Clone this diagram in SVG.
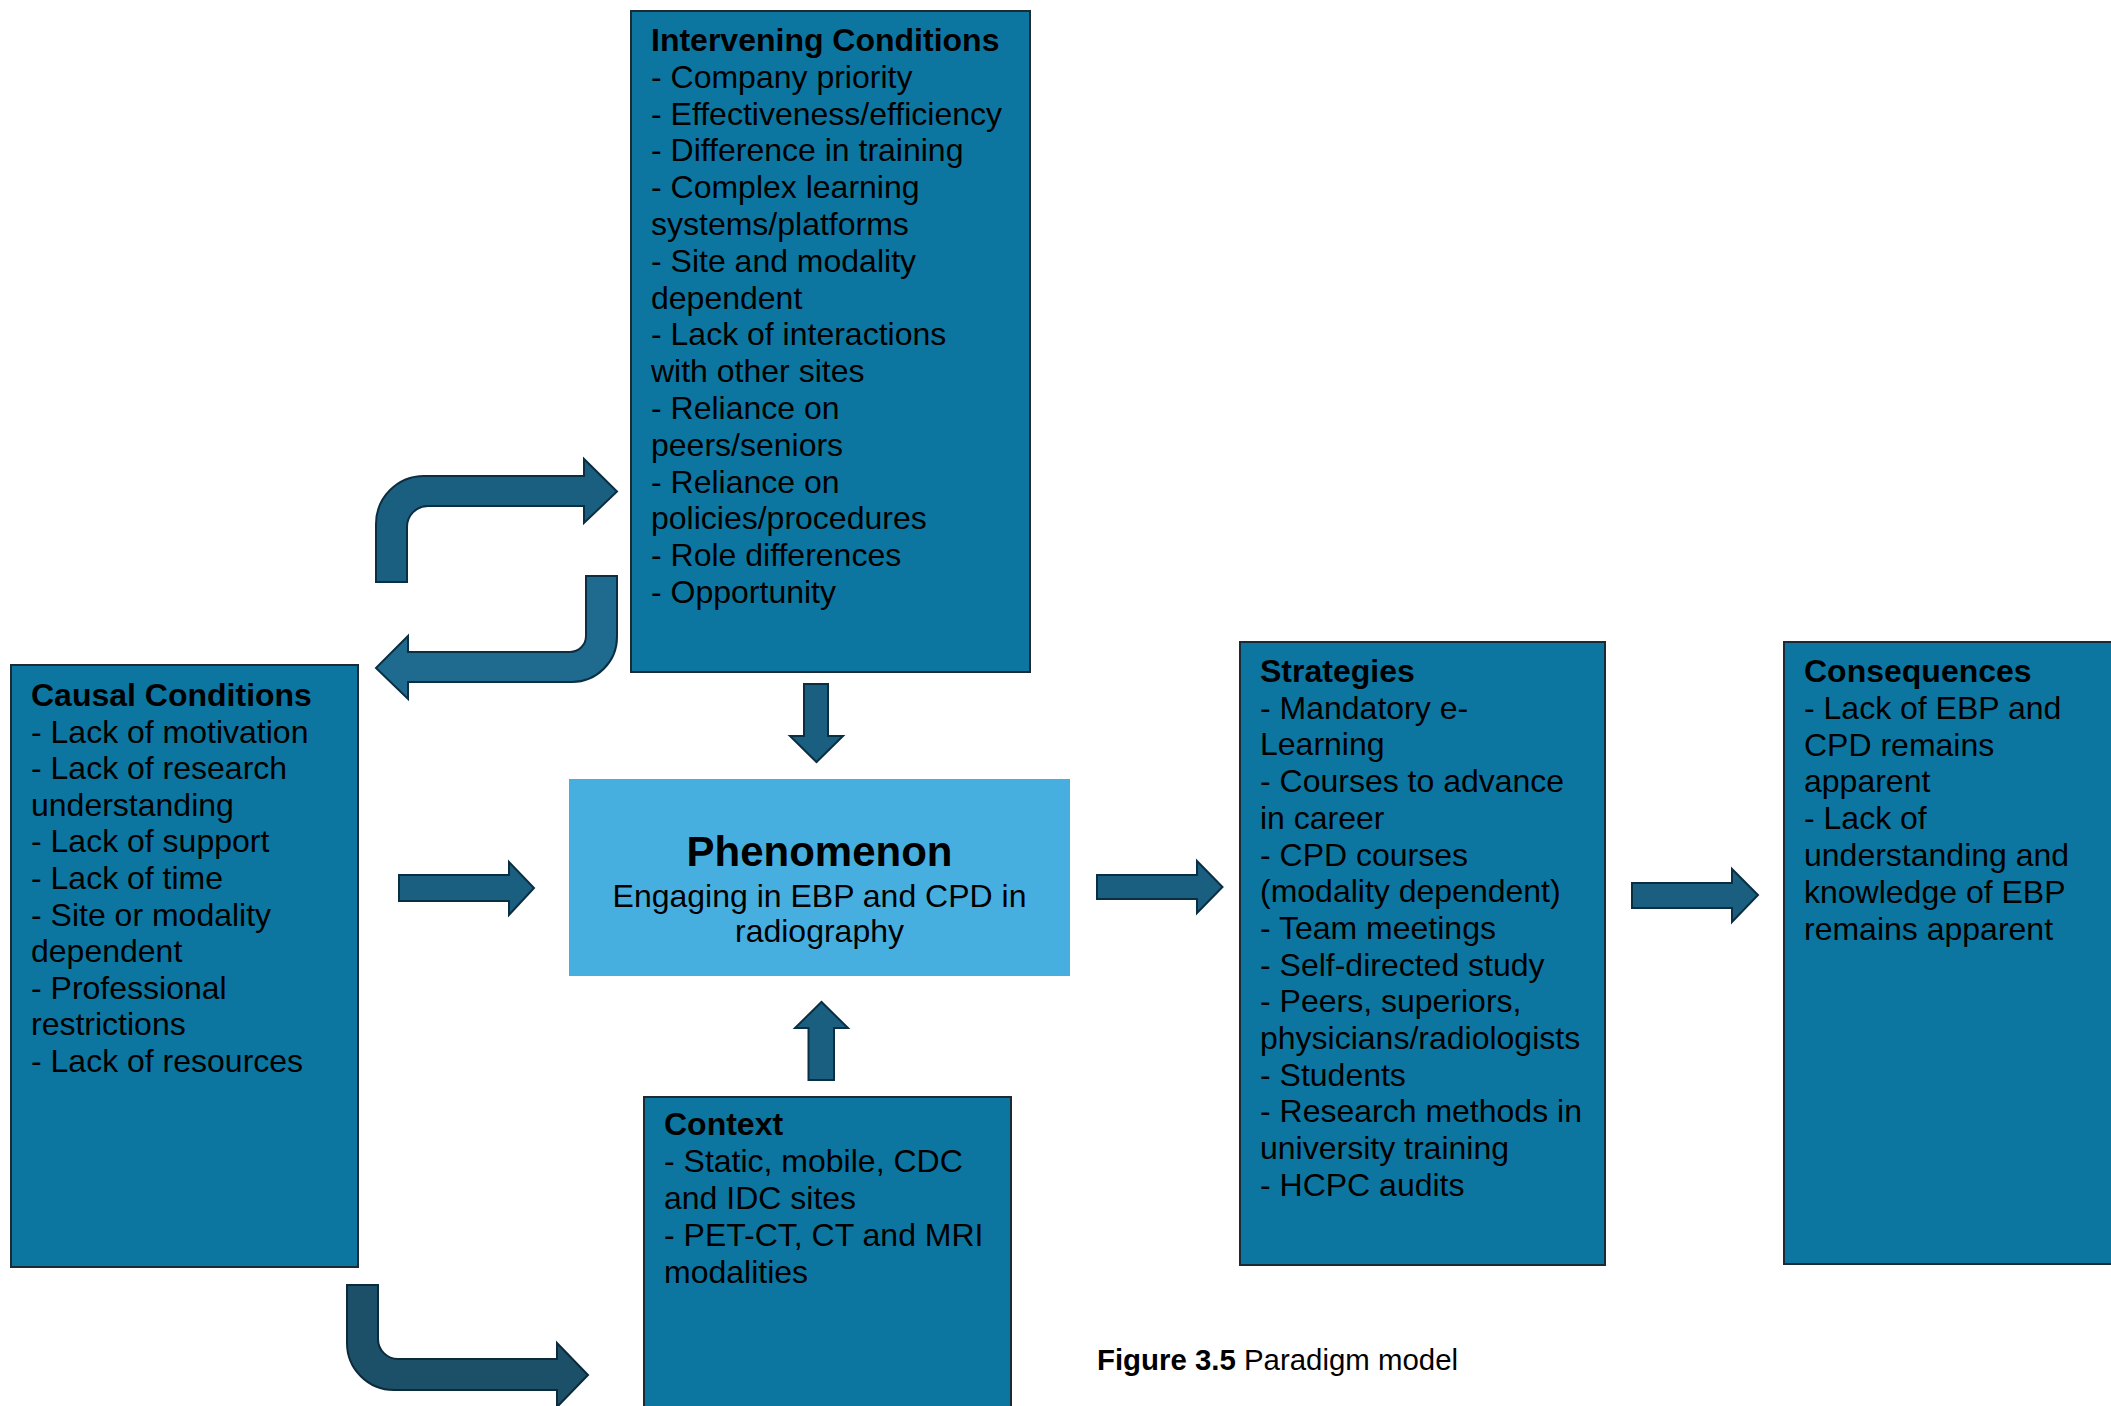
<svg xmlns="http://www.w3.org/2000/svg" width="2111" height="1406" viewBox="0 0 2111 1406">
  <style>
    .box { fill: #0c76a0; stroke: #1b2a33; stroke-width: 2; }
    .core { fill: #47afe0; }
    .t { font-family: "Liberation Sans", Arial, sans-serif; font-size: 32px; fill: #000; }
    .b { font-weight: bold; }
    .big { font-size: 42px; }
    .cap { font-size: 29.4px; }
    .arrow { fill: #1a5e80; stroke: #0b2f42; stroke-width: 2; stroke-linejoin: miter; }
    .arrow-lt { fill: #1f6a8f; stroke: #0b2f42; stroke-width: 2; }
    .arrow-dk { fill: #1b5068; stroke: #0b2a3a; stroke-width: 2; }
  </style>
  <rect width="2111" height="1406" fill="#ffffff"/>

  <!-- connectors -->
  <g id="connectors">
    <!-- loop: causal up and over to intervening -->
    <path class="arrow" d="M376 582 L376 524 A48 48 0 0 1 424 476 L584 476 L584 459 L617 491.5 L584 523 L584 506 L428 506 A21 21 0 0 0 407 527 L407 582 Z"/>
    <!-- loop: intervening down and back to causal -->
    <path class="arrow-lt" d="M617 576 L617 637 A45 45 0 0 1 572 682 L408 682 L408 699 L376 668 L408 636 L408 652 L570 652 A16 16 0 0 0 586 636 L586 576 Z"/>
    <!-- causal down into context -->
    <path class="arrow-dk" d="M347 1285 L347 1343 A47 47 0 0 0 394 1390 L557 1390 L557 1407 L588 1375 L557 1343 L557 1359 L398 1359 A20 20 0 0 1 378 1339 L378 1285 Z"/>
    <!-- intervening to phenomenon -->
    <polygon class="arrow" points="804,684 828,684 828,736 843,736 816.5,762 790,736 804,736"/>
    <!-- context to phenomenon -->
    <polygon class="arrow" points="808.5,1080 834,1080 834,1028 848,1028 821.5,1002 795,1028 808.5,1028"/>
    <!-- causal to phenomenon -->
    <polygon class="arrow" points="399,875 509,875 509,862 534,888 509,915 509,901 399,901"/>
    <!-- phenomenon to strategies -->
    <polygon class="arrow" points="1097,875 1197,875 1197,861 1222.5,887 1197,913 1197,899 1097,899"/>
    <!-- strategies to consequences -->
    <polygon class="arrow" points="1632,883 1732,883 1732,869 1758,895 1732,922 1732,908 1632,908"/>
  </g>

  <g id="intervening">
    <rect class="box" x="631" y="11" width="399" height="661"/>
    <text class="t b" x="651" y="51">Intervening Conditions</text>
    <text class="t" x="651" y="88">- Company priority</text>
    <text class="t" x="651" y="124.6">- Effectiveness/efficiency</text>
    <text class="t" x="651" y="161.4">- Difference in training</text>
    <text class="t" x="651" y="198.2">- Complex learning</text>
    <text class="t" x="651" y="235">systems/platforms</text>
    <text class="t" x="651" y="271.8">- Site and modality</text>
    <text class="t" x="651" y="308.6">dependent</text>
    <text class="t" x="651" y="345.4">- Lack of interactions</text>
    <text class="t" x="651" y="382.2">with other sites</text>
    <text class="t" x="651" y="419">- Reliance on</text>
    <text class="t" x="651" y="455.8">peers/seniors</text>
    <text class="t" x="651" y="492.6">- Reliance on</text>
    <text class="t" x="651" y="529.4">policies/procedures</text>
    <text class="t" x="651" y="566.2">- Role differences</text>
    <text class="t" x="651" y="603">- Opportunity</text>
  </g>

  <g id="causal">
    <rect class="box" x="11" y="665" width="347" height="602"/>
    <text class="t b" x="31" y="706">Causal Conditions</text>
    <text class="t" x="31" y="742.6">- Lack of motivation</text>
    <text class="t" x="31" y="779.2">- Lack of research</text>
    <text class="t" x="31" y="815.8">understanding</text>
    <text class="t" x="31" y="852.4">- Lack of support</text>
    <text class="t" x="31" y="889">- Lack of time</text>
    <text class="t" x="31" y="925.6">- Site or modality</text>
    <text class="t" x="31" y="962.2">dependent</text>
    <text class="t" x="31" y="998.8">- Professional</text>
    <text class="t" x="31" y="1035.4">restrictions</text>
    <text class="t" x="31" y="1072">- Lack of resources</text>
  </g>

  <g id="phenomenon">
    <rect class="core" x="569" y="779" width="501" height="197"/>
    <text class="t b big" x="819.5" y="866" text-anchor="middle">Phenomenon</text>
    <text class="t" x="819.5" y="907" text-anchor="middle">Engaging in EBP and CPD in</text>
    <text class="t" x="819.5" y="942" text-anchor="middle">radiography</text>
  </g>

  <g id="context">
    <rect class="box" x="644" y="1097" width="367" height="320"/>
    <text class="t b" x="664" y="1135">Context</text>
    <text class="t" x="664" y="1172">- Static, mobile, CDC</text>
    <text class="t" x="664" y="1209">and IDC sites</text>
    <text class="t" x="664" y="1246">- PET-CT, CT and MRI</text>
    <text class="t" x="664" y="1283">modalities</text>
  </g>

  <g id="strategies">
    <rect class="box" x="1240" y="642" width="365" height="623"/>
    <text class="t b" x="1260" y="682">Strategies</text>
    <text class="t" x="1260" y="718.7">- Mandatory e-</text>
    <text class="t" x="1260" y="755.4">Learning</text>
    <text class="t" x="1260" y="792.1">- Courses to advance</text>
    <text class="t" x="1260" y="828.8">in career</text>
    <text class="t" x="1260" y="865.5">- CPD courses</text>
    <text class="t" x="1260" y="902.2">(modality dependent)</text>
    <text class="t" x="1260" y="938.9">- Team meetings</text>
    <text class="t" x="1260" y="975.6">- Self-directed study</text>
    <text class="t" x="1260" y="1012.3">- Peers, superiors,</text>
    <text class="t" x="1260" y="1049">physicians/radiologists</text>
    <text class="t" x="1260" y="1085.7">- Students</text>
    <text class="t" x="1260" y="1122.4">- Research methods in</text>
    <text class="t" x="1260" y="1159.1">university training</text>
    <text class="t" x="1260" y="1195.8">- HCPC audits</text>
  </g>

  <g id="consequences">
    <rect class="box" x="1784" y="642" width="340" height="622"/>
    <text class="t b" x="1804" y="682">Consequences</text>
    <text class="t" x="1804" y="718.8">- Lack of EBP and</text>
    <text class="t" x="1804" y="755.6">CPD remains</text>
    <text class="t" x="1804" y="792.4">apparent</text>
    <text class="t" x="1804" y="829.2">- Lack of</text>
    <text class="t" x="1804" y="866">understanding and</text>
    <text class="t" x="1804" y="902.8">knowledge of EBP</text>
    <text class="t" x="1804" y="939.6">remains apparent</text>
  </g>

  <text class="t cap" x="1097" y="1370"><tspan class="b">Figure 3.5</tspan> Paradigm model</text>
</svg>
